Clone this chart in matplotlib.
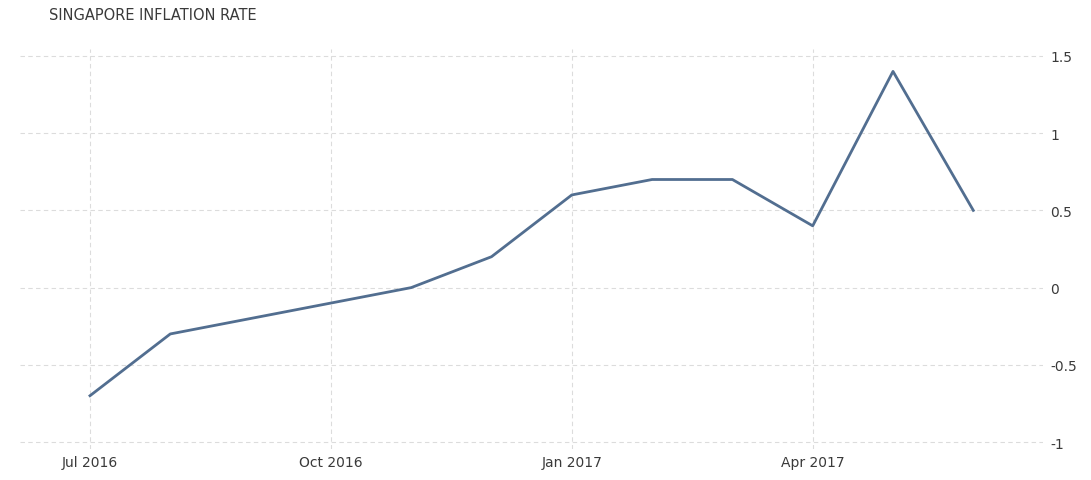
import matplotlib
matplotlib.use("Agg")
import matplotlib.pyplot as plt

months = ["Jul 2016", "Aug 2016", "Sep 2016", "Oct 2016", "Nov 2016", "Dec 2016",
          "Jan 2017", "Feb 2017", "Mar 2017", "Apr 2017", "May 2017", "Jun 2017"]
values = [-0.7, -0.3, -0.2, -0.1, 0.0, 0.2, 0.6, 0.7, 0.7, 0.4, 1.4, 0.5]
tick_labels = ["Jul 2016", "Oct 2016", "Jan 2017", "Apr 2017"]
y_ticks = [-1, -0.5, 0, 0.5, 1, 1.5]
y_tick_labels = ["-1", "-0.5", "0", "0.5", "1", "1.5"]

fig = plt.figure(figsize=(10.91, 4.81), dpi=100)
left_px, right_px = 20, 1043
ax = fig.add_axes([left_px/1091, 1 - 450/481, (right_px-left_px)/1091, 400/481])

x = list(range(len(months)))
ax.plot(x, values, color="#526e90", linewidth=2.0, solid_joinstyle="round")

tick_pos = [months.index(t) for t in tick_labels]
ax.set_xticks(tick_pos)
ax.set_xticklabels(tick_labels)
ax.set_yticks(y_ticks)
ax.set_yticklabels(y_tick_labels)
ax.yaxis.tick_right()

ax.set_xlim(-(90-left_px)/80.3, (right_px-90)/80.3)
ax.set_ylim(-1.045, 1.545)

ax.grid(True, color="#dcdcdc", linestyle=(0, (4, 3)), linewidth=0.8)
for s in ax.spines.values():
    s.set_visible(False)
ax.tick_params(axis="both", length=0, labelsize=10, colors="#3a3a3a")
ax.tick_params(axis="x", pad=4)
ax.tick_params(axis="y", pad=5)

fig.text(49/1091, 1 - 16/481, "SINGAPORE INFLATION RATE", fontsize=10.5, color="#3a3a3a",
         va="center", ha="left")

fig.savefig("out.png", dpi=100, facecolor="white")
